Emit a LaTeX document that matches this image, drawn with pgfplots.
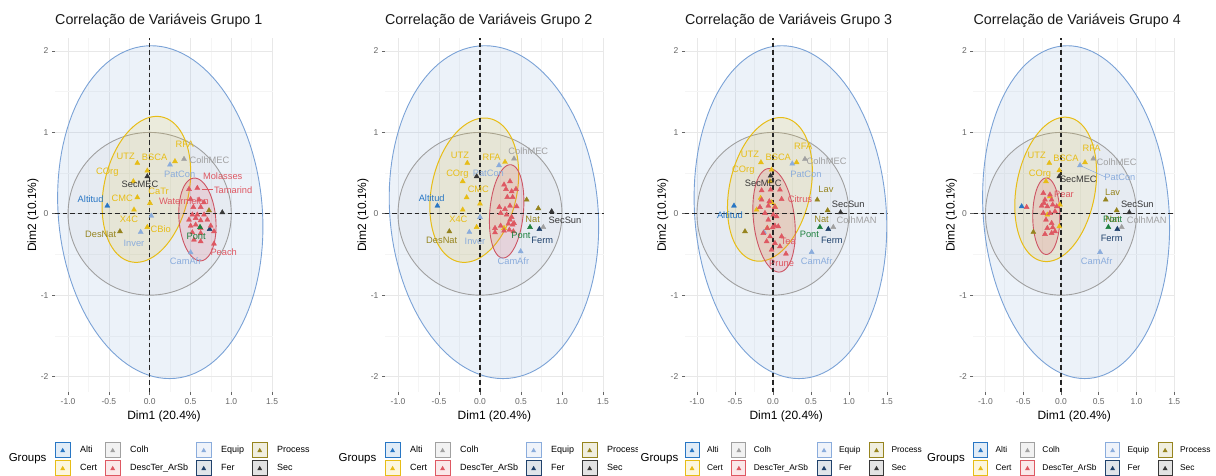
\documentclass[border=0pt]{standalone}
\usepackage{fontspec}
\setmainfont{Liberation Sans}
\usepackage{pgfplots}
\usepackage{pgfplotstable}
\pgfplotsset{compat=1.18}

\definecolor{cAlti}{RGB}{40,118,196}
\definecolor{cCert}{RGB}{231,189,22}
\definecolor{cColh}{RGB}{160,160,160}
\definecolor{cDesc}{RGB}{222,88,98}
\definecolor{cEquip}{RGB}{138,172,220}
\definecolor{cFer}{RGB}{32,66,108}
\definecolor{cProc}{RGB}{150,132,30}
\definecolor{cSec}{RGB}{55,55,55}
\definecolor{cPont}{RGB}{30,128,62}
\definecolor{cBlueB}{RGB}{122,162,214}
\definecolor{cRedB}{RGB}{205,85,100}

\newcommand{\tA}[1]{\textcolor{cAlti}{#1}}
\newcommand{\tC}[1]{\textcolor{cCert}{#1}}
\newcommand{\tH}[1]{\textcolor{cColh}{#1}}
\newcommand{\tD}[1]{\textcolor{cDesc}{#1}}
\newcommand{\tE}[1]{\textcolor{cEquip}{#1}}
\newcommand{\tF}[1]{\textcolor{cFer}{#1}}
\newcommand{\tP}[1]{\textcolor{cProc}{#1}}
\newcommand{\tS}[1]{\textcolor{cSec}{#1}}
\newcommand{\tG}[1]{\textcolor{cPont}{#1}}

% ---------------- data ----------------
\pgfplotstableread{
g x y
C -0.151 0.623
C -0.029 0.529
C 0.310 0.644
C -0.200 0.398
C -0.151 0.201
C 0.004 0.131
C -0.192 0.049
C -0.029 -0.164
S -0.029 0.459
S 0.890 0.016
H 0.421 0.672
E 0.249 0.603
E 0.020 -0.025
E -0.110 -0.225
E 0.502 -0.476
A -0.519 0.098
P -0.364 -0.217
P 0.727 0.041
F 0.735 -0.189
D 0.482 0.303
D 0.584 0.316
D 0.502 0.180
D 0.605 0.172
D 0.666 0.139
D 0.535 0.082
D 0.625 0.082
D 0.523 -0.012
D 0.584 -0.012
D 0.666 -0.012
D 0.482 -0.074
D 0.564 -0.053
D 0.625 -0.082
D 0.707 -0.074
D 0.502 -0.148
D 0.564 -0.135
D 0.625 -0.176
D 0.748 -0.148
D 0.523 -0.230
D 0.625 -0.238
D 0.543 -0.320
D 0.625 -0.340
D 0.788 -0.217
D 0.788 -0.369
G 0.617 -0.164
}\ptsA
\pgfplotstableread{
x y t
0.429 0.849 \tC{RFA}
0.733 0.664 \tH{ColhMEC}
-0.294 0.705 \tC{UTZ}
0.061 0.693 \tC{BSCA}
-0.519 0.508 \tC{COrg}
0.368 0.488 \tE{PatCon}
-0.118 0.357 \tS{SecMEC}
0.895 0.467 \tD{Molasses}
1.023 0.295 \tD{Tamarind}
-0.723 0.185 \tA{Altitud}
-0.335 0.185 \tC{CMC}
0.110 0.272 \tC{CaTr}
0.420 0.150 \tD{Watermelon}
-0.253 -0.062 \tC{X4C}
0.135 -0.189 \tC{CBio}
-0.600 -0.250 \tP{DesNat}
-0.192 -0.369 \tE{Inver}
0.570 -0.279 \tG{Pont}
0.907 -0.476 \tD{Peach}
0.441 -0.586 \tE{CamAfr}
}\labA

\pgfplotstableread{
g x y
C -0.155 0.623
C 0.305 0.636
C -0.211 0.398
C -0.163 0.201
C -0.211 0.049
C 0.000 0.123
C -0.041 -0.164
C 0.293 -0.176
H 0.415 0.677
H 0.772 -0.164
E 0.232 0.595
E 0.000 -0.041
E -0.130 -0.225
E 0.496 -0.463
S -0.041 0.459
S 0.874 0.029
A -0.520 0.098
P -0.374 -0.217
P 0.569 0.172
P 0.711 0.066
F 0.724 -0.189
D 0.293 0.357
D 0.366 0.398
D 0.317 0.303
D 0.386 0.275
D 0.439 0.303
D 0.333 0.205
D 0.398 0.205
D 0.236 0.082
D 0.305 0.057
D 0.366 0.098
D 0.447 0.090
D 0.252 0.008
D 0.325 -0.012
D 0.386 -0.041
D 0.183 -0.176
D 0.252 -0.148
D 0.346 -0.123
D 0.398 -0.135
D 0.366 -0.074
D 0.415 -0.115
D 0.183 -0.230
D 0.293 -0.209
D 0.358 -0.197
D 0.407 -0.217
G 0.610 -0.164
}\ptsB
\pgfplotstableread{
x y t
-0.244 0.713 \tC{UTZ}
0.142 0.697 \tC{RFA}
0.589 0.775 \tH{ColhMEC}
-0.276 0.492 \tC{COrg}
0.102 0.500 \tE{PatCon}
-0.020 0.295 \tC{CMC}
-0.589 0.193 \tA{Altitud}
-0.264 -0.062 \tC{X4C}
0.642 -0.066 \tP{Nat}
1.037 -0.082 \tS{SecSun}
-0.467 -0.328 \tP{DesNat}
-0.061 -0.340 \tE{Inver}
0.500 -0.262 \tG{Pont}
0.760 -0.330 \tF{Ferm}
0.407 -0.586 \tE{CamAfr}
}\labB

\pgfplotstableread{
g x y
C 0.311 0.631
C -0.158 0.631
C -0.018 0.541
C -0.162 0.193
C -0.215 0.049
C -0.018 0.139
C 0.026 0.090
C -0.039 0.398
C -0.075 -0.176
H 0.421 0.672
H 0.794 -0.164
E 0.254 0.615
E 0.509 -0.471
E -0.118 -0.225
S -0.031 0.467
S 0.890 0.016
A -0.513 0.098
P 0.583 0.172
P 0.719 0.041
P -0.368 -0.217
F 0.728 -0.189
D -0.149 0.287
D -0.031 0.295
D 0.092 0.295
D -0.149 0.172
D -0.048 0.152
D -0.171 0.082
D -0.061 0.098
D 0.026 0.082
D 0.114 0.180
D -0.105 0.008
D 0.004 -0.012
D 0.048 -0.033
D -0.061 -0.074
D 0.026 -0.148
D -0.075 -0.176
D -0.004 -0.168
D 0.070 -0.156
D -0.127 -0.238
D -0.039 -0.279
D -0.083 -0.340
D 0.026 -0.361
D 0.114 -0.279
D -0.018 -0.443
D 0.092 -0.402
D 0.171 -0.492
G 0.618 -0.164
}\ptsC
\pgfplotstableread{
x y t
0.399 0.828 \tC{RFA}
0.706 0.652 \tH{ColhMEC}
-0.303 0.726 \tC{UTZ}
0.070 0.693 \tC{BSCA}
-0.390 0.541 \tC{COrg}
0.434 0.480 \tE{PatCon}
-0.127 0.377 \tS{SecMEC}
0.697 0.303 \tP{Lav}
0.355 0.185 \tD{Citrus}
0.991 0.119 \tS{SecSun}
-0.566 -0.012 \tA{Altitud}
0.640 -0.066 \tP{Nat}
1.101 -0.082 \tH{ColhMAN}
0.480 -0.255 \tG{Pont}
0.775 -0.330 \tF{Ferm}
0.202 -0.340 \tD{Tea}
0.575 -0.586 \tE{CamAfr}
0.114 -0.615 \tD{Prune}
}\labC

\pgfplotstableread{
g x y
C 0.318 0.631
C -0.155 0.623
C -0.022 0.533
C -0.199 0.398
C -0.146 0.213
C -0.181 -0.012
C -0.022 -0.156
C -0.013 0.111
H 0.428 0.677
H 0.804 -0.164
E 0.252 0.595
E 0.517 -0.471
S -0.022 0.459
S 0.905 0.016
A -0.521 0.090
P 0.592 0.172
P 0.737 0.041
P -0.366 -0.225
F 0.746 -0.189
D -0.455 0.082
D -0.234 0.254
D -0.146 0.234
D -0.212 0.172
D -0.124 0.172
D -0.256 0.098
D -0.181 0.090
D -0.110 0.111
D -0.057 0.090
D -0.234 0.008
D -0.146 0.008
D -0.079 0.029
D -0.199 -0.074
D -0.124 -0.115
D -0.181 -0.176
D -0.110 -0.168
D -0.212 -0.250
D -0.124 -0.238
D -0.079 -0.217
D -0.225 0.131
G 0.627 -0.164
}\ptsD
\pgfplotstableread{
x y t
0.406 0.808 \tC{RFA}
0.737 0.631 \tH{ColhMEC}
-0.322 0.713 \tC{UTZ}
0.066 0.685 \tC{BSCA}
-0.278 0.492 \tC{COrg}
0.230 0.418 \tS{SecMEC}
0.780 0.447 \tE{PatCon}
0.040 0.242 \tD{Pear}
0.684 0.262 \tP{Lav}
1.011 0.119 \tS{SecSun}
1.135 -0.082 \tH{ColhMAN}
0.684 -0.066 \tP{Nat}
0.684 -0.066 \tG{Pont}
0.671 -0.299 \tF{Ferm}
0.472 -0.586 \tE{CamAfr}
}\labD

% ---------------- helpers ----------------
\newcommand{\keyglyph}[1]{%
  \path[draw=none, fill=none] (-\klp,-8pt) rectangle (\kw+\kg,8pt);
  \draw[draw=#1, fill=#1!14, line width=0.9pt] (0pt,-7.5pt) rectangle (\kw,7.5pt);
  \fill[#1, draw=none, xshift=0.5*\kw] (-2.4pt,-1.8pt) -- (2.4pt,-1.8pt) -- (0pt,2.4pt) -- cycle;}
\newcommand{\legendkeys}{%
  \addlegendimage{legend image code/.code={\keyglyph{cAlti}}}\addlegendentry{Alti}
  \addlegendimage{legend image code/.code={\keyglyph{cCert}}}\addlegendentry{Cert}
  \addlegendimage{legend image code/.code={\keyglyph{cColh}}}\addlegendentry{Colh}
  \addlegendimage{legend image code/.code={\keyglyph{cDesc}}}\addlegendentry{DescTer\_ArSb}
  \addlegendimage{legend image code/.code={\keyglyph{cEquip}}}\addlegendentry{Equip}
  \addlegendimage{legend image code/.code={\keyglyph{cFer}}}\addlegendentry{Fer}
  \addlegendimage{legend image code/.code={\keyglyph{cProc}}}\addlegendentry{Process}
  \addlegendimage{legend image code/.code={\keyglyph{cSec}}}\addlegendentry{Sec}}
\newcommand{\ellip}[6]{\addplot[forget plot, #6, domain=0:360, samples=121, variable=\t]
  ({#1+(#3)*cos(\t)*cos(#5)-(#4)*sin(\t)*sin(#5)}, {#2+(#3)*cos(\t)*sin(#5)+(#4)*sin(\t)*cos(#5)});}
\newcommand{\zerolines}{%
  \addplot[forget plot, black!85, line width=1.3pt, dash pattern=on 4.5pt off 3pt] coordinates {(0,-2.19) (0,2.16)};
  \addplot[forget plot, black!85, line width=1.3pt, dash pattern=on 4.5pt off 3pt] coordinates {(-1.16,0) (1.51,0)};}
\newcommand{\pts}[1]{\addplot[forget plot, scatter, only marks, scatter src=explicit symbolic, mark size=2.9pt,
  scatter/classes={A={mark=triangle*,cAlti}, C={mark=triangle*,cCert}, H={mark=triangle*,cColh},
  D={mark=triangle*,cDesc}, E={mark=triangle*,cEquip}, F={mark=triangle*,cFer},
  P={mark=triangle*,cProc}, S={mark=triangle*,cSec}, G={mark=triangle*,cPont}}]
  table[x=x,y=y,meta=g] {#1};}
\newcommand{\labs}[1]{\addplot[forget plot, only marks, mark=none, nodes near coords, point meta=explicit symbolic,
  every node near coord/.append style={anchor=center, font=\fontsize{9.3}{10}\selectfont, inner sep=0pt}]
  table[x=x,y=y,meta=t] {#1};}

\pgfplotsset{
  blueE/.style={draw=cBlueB, line width=0.9pt, fill=cEquip, fill opacity=0.16},
  greyE/.style={draw=cColh, line width=0.9pt, fill=cColh, fill opacity=0.08},
  yellowE/.style={draw=cCert, line width=1pt, fill=cCert, fill opacity=0.13},
  redE/.style={draw=cRedB, line width=0.9pt, fill=cDesc, fill opacity=0.16},
  panel/.style={
    scale only axis, height=354pt,
    xmin=-1.16, xmax=1.51, ymin=-2.19, ymax=2.16,
    axis x line*=bottom, axis y line*=left, axis line style={draw=none},
    xtick={-1,-0.5,0,0.5,1,1.5}, xticklabels={-1.0,-0.5,0.0,0.5,1.0,1.5},
    ytick={-2,-1,0,1,2}, yticklabels={-2,-1,0,1,2},
    minor xtick={-0.75,-0.25,0.25,0.75,1.25}, minor ytick={-1.5,-0.5,0.5,1.5},
    grid=both, major grid style={draw=black!9, line width=0.7pt},
    minor grid style={draw=black!4, line width=0.5pt},
    tick align=outside, major tick length=3pt, minor tick length=0pt,
    every tick/.style={draw=black!60, line width=0.7pt},
    tick label style={font=\fontsize{8.5}{9}\selectfont, text=black!60},
    xlabel={Dim1 (20.4\%)}, ylabel={Dim2 (10.1\%)},
    every axis x label/.style={at={(axis description cs:0.5,0)}, anchor=center, yshift=-24.5pt,
      font=\fontsize{12}{13}\selectfont},
    every axis title/.style={at={(axis description cs:0,1)}, anchor=base west, yshift=14pt,
      inner sep=0pt, font=\fontsize{14.3}{15}\selectfont, text=black!90},
    legend columns=2, transpose legend, legend cell align=left,
    legend style={at={(axis description cs:0,0)}, anchor=north west, yshift=-50pt,
      draw=none, fill=none, inner xsep=0pt, inner ysep=0pt, row sep=2pt, column sep=0pt,
      nodes={inner sep=0pt}},
  },
  ylab/.style={every axis y label/.style={at={(axis description cs:#1,0.5)}, rotate=90, anchor=center,
      font=\fontsize{12}{13}\selectfont}},
}

\begin{document}
\begin{tikzpicture}
\useasboundingbox (0pt,0pt) rectangle (1216pt,-475pt);

% ---------- Panel 1 ----------
\def\kw{15pt}\def\kg{10pt}\def\klp{8pt}
\begin{axis}[panel, name=p1, at={(55pt,-392pt)}, anchor=south west, width=217.9pt, ylab=-0.101,
  title={Correlação de Variáveis Grupo 1},
  legend style={xshift=-8pt, font=\fontsize{9}{10}\selectfont}]
\legendkeys
\ellip{0.13}{0.02}{1.25}{2.05}{5}{blueE}
\ellip{0}{0}{1}{1}{0}{greyE}
\ellip{-0.04}{0.30}{0.52}{0.91}{-12}{yellowE}
\ellip{0.585}{-0.07}{0.225}{0.51}{5}{redE}
\zerolines
\addplot[forget plot, cDesc, line width=0.5pt] coordinates {(0.64,0.30) (0.77,0.30)};
\pts{\ptsA}
\labs{\labA}
\end{axis}
\node[anchor=east, font=\fontsize{11.5}{12}\selectfont] at ([xshift=-5pt,yshift=-67pt]p1.south west) {Groups};

% ---------- Panel 2 ----------
\begin{axis}[panel, name=p2, at={(384.9pt,-392pt)}, anchor=south west, width=218.9pt, ylab=-0.1005,
  title={Correlação de Variáveis Grupo 2},
  legend style={xshift=-8pt, font=\fontsize{9}{10}\selectfont}]
\legendkeys
\ellip{0.17}{0.02}{1.27}{2.05}{5}{blueE}
\ellip{0}{0}{1}{1}{0}{greyE}
\ellip{-0.07}{0.29}{0.52}{0.90}{-12}{yellowE}
\ellip{0.325}{0.03}{0.205}{0.575}{-5}{redE}
\zerolines
\pts{\ptsB}
\labs{\labB}
\end{axis}
\node[anchor=east, font=\fontsize{11.5}{12}\selectfont] at ([xshift=-5pt,yshift=-67pt]p2.south west) {Groups};

\fill[white] (638pt,-441pt) rectangle (644pt,-475pt);

% ---------- Panel 3 ----------
\def\kw{14pt}\def\kg{8pt}\def\klp{9pt}
\begin{axis}[panel, name=p3, at={(684.8pt,-392pt)}, anchor=south west, width=202.9pt, ylab=-0.108,
  title={Correlação de Variáveis Grupo 3},
  legend style={xshift=-9pt, font=\fontsize{8.4}{9.5}\selectfont}]
\legendkeys
\ellip{0.23}{0.02}{1.26}{2.05}{5}{blueE}
\ellip{0}{0}{1}{1}{0}{greyE}
\ellip{-0.04}{0.30}{0.53}{0.90}{-14}{yellowE}
\ellip{0.015}{-0.08}{0.27}{0.64}{7}{redE}
\zerolines
\pts{\ptsC}
\labs{\labC}
\end{axis}
\node[anchor=east, font=\fontsize{11.5}{12}\selectfont] at ([xshift=-3pt,yshift=-67pt]p3.south west) {Groups};

% ---------- Panel 4 ----------
\begin{axis}[panel, name=p4, at={(973.4pt,-392pt)}, anchor=south west, width=201.6pt, ylab=-0.109,
  title={Correlação de Variáveis Grupo 4},
  legend style={xshift=-9pt, font=\fontsize{8.4}{9.5}\selectfont}]
\legendkeys
\ellip{0.20}{0.02}{1.23}{2.05}{5}{blueE}
\ellip{0}{0}{1}{1}{0}{greyE}
\ellip{-0.07}{0.30}{0.52}{0.90}{-12}{yellowE}
\ellip{-0.194}{-0.03}{0.18}{0.47}{0}{redE}
\zerolines
\addplot[forget plot, cEquip, line width=0.5pt] coordinates {(0.26,0.59) (0.58,0.455)};
\pts{\ptsD}
\labs{\labD}
\end{axis}
\node[anchor=east, font=\fontsize{11.5}{12}\selectfont] at ([xshift=-5pt,yshift=-67pt]p4.south west) {Groups};
\end{tikzpicture}
\end{document}
